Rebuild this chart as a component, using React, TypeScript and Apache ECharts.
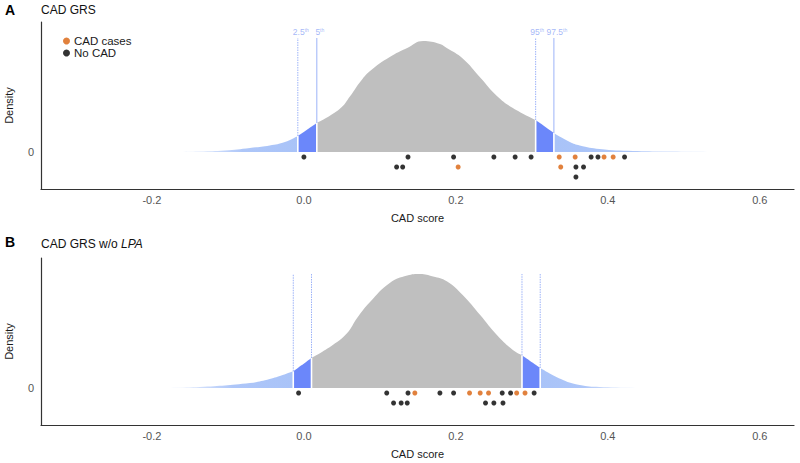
import React, { useEffect, useRef } from "react";
import * as echarts from "echarts";

// ---------- data ----------
const xTicks = [-0.2, 0.0, 0.2, 0.4, 0.6];
const yTicks = [0];

// Panel A: density curve of CAD GRS
const densA_x = [-0.170, -0.137, -0.104, -0.071, -0.045, -0.025, -0.008, 0.017, 0.047, 0.061, 0.074, 0.087, 0.113, 0.136, 0.157, 0.179, 0.188, 0.209, 0.232, 0.254, 0.275, 0.305, 0.329, 0.350, 0.363, 0.389, 0.433, 0.508, 0.574];
const densA_y = [0, 0.02, 0.06, 0.16, 0.26, 0.40, 0.64, 1.16, 1.72, 2.24, 2.80, 3.24, 3.80, 4.16, 4.44, 4.32, 4.16, 3.74, 2.98, 2.24, 1.76, 1.28, 0.76, 0.40, 0.26, 0.12, 0.04, 0.012, 0];
const pctA = [-0.008, 0.017, 0.305, 0.329];
const pctLabels = ["2.5", "5", "95", "97.5"];

// Panel B: density curve of CAD GRS w/o LPA
const densB_x = [-0.189, -0.137, -0.071, -0.045, -0.028, -0.014, 0.010, 0.038, 0.057, 0.070, 0.087, 0.113, 0.136, 0.153, 0.170, 0.188, 0.209, 0.232, 0.254, 0.275, 0.287, 0.311, 0.341, 0.363, 0.389, 0.453];
const densB_y = [0, 0.04, 0.2, 0.36, 0.52, 0.67, 1.2, 1.72, 2.2, 2.8, 3.44, 4.2, 4.5, 4.56, 4.46, 4.27, 3.72, 2.92, 2.12, 1.52, 1.31, 0.8, 0.32, 0.12, 0.04, 0];
const pctB = [-0.014, 0.010, 0.287, 0.311];

// individual scores: [score, stack level]
const casesA: number[][] = [[0.336, 0], [0.357, 0], [0.395, 0], [0.407, 0], [0.203, 1], [0.338, 1]];
const noCadA: number[][] = [[0.000, 0], [0.137, 0], [0.197, 0], [0.250, 0], [0.278, 0], [0.299, 0], [0.378, 0], [0.387, 0], [0.422, 0], [0.122, 1], [0.130, 1], [0.358, 1], [0.368, 1], [0.358, 2]];
const casesB: number[][] = [[0.146, 0], [0.218, 0], [0.232, 0], [0.243, 0], [0.280, 0], [0.291, 0]];
const noCadB: number[][] = [[-0.007, 0], [0.109, 0], [0.137, 0], [0.179, 0], [0.197, 0], [0.261, 0], [0.272, 0], [0.303, 0], [0.118, 1], [0.128, 1], [0.136, 1], [0.239, 1], [0.250, 1], [0.262, 1]];

// ---------- style ----------
const FONT = "Liberation Sans, Arial, Helvetica, sans-serif";
const GRAY = "#bfbfbf";
const DARKBLUE = "#6b87fa";
const LIGHTBLUE = "#a9c3f8";
const PCTLINE = "#9db3f8";
const ORANGE = "#d9620c";
const X_MIN = -0.346;
const X_MAX = 0.645;
const Y_MIN = -1.48;
const Y_MAX = 5.2;
const LINE_TOP = 4.56;
const ROW_Y = (lvl: number) => -0.2 - 0.4 * lvl;

function seg(xs: number[], ys: number[], lo: number, hi: number) {
  const out: number[][] = [];
  xs.forEach((x, i) => {
    if (x >= lo - 1e-9 && x <= hi + 1e-9) out.push([x, ys[i]]);
  });
  return out;
}
function densAt(xs: number[], ys: number[], p: number) {
  const i = xs.findIndex((x) => Math.abs(x - p) < 1e-9);
  return ys[i];
}

function panelSeries(idx: number, xs: number[], ys: number[], pct: number[], cases: number[][], noCad: number[][], labels: boolean, dottedAll: boolean) {
  const base = { xAxisIndex: idx, yAxisIndex: idx };
  const area = (data: number[][], color: any, z = 2) => ({
    ...base,
    type: "line",
    data,
    smooth: 0.45,
    symbol: "none",
    lineStyle: { width: 0 },
    areaStyle: { color, opacity: 1 },
    silent: true,
    z,
  });
  const fadeLeft = new echarts.graphic.LinearGradient(0, 0, 1, 0, [
    { offset: 0, color: "rgba(169,195,248,0.05)" },
    { offset: 0.55, color: "rgba(169,195,248,0.95)" },
    { offset: 1, color: LIGHTBLUE },
  ]);
  const fadeRight = new echarts.graphic.LinearGradient(0, 0, 1, 0, [
    { offset: 0, color: LIGHTBLUE },
    { offset: 0.4, color: "rgba(169,195,248,0.95)" },
    { offset: 1, color: "rgba(169,195,248,0.05)" },
  ]);
  const s: any[] = [
    area(seg(xs, ys, xs[0], pct[0]), fadeLeft),
    area(seg(xs, ys, pct[0], pct[1]), DARKBLUE),
    area(seg(xs, ys, pct[1], pct[2]), GRAY),
    area(seg(xs, ys, pct[2], pct[3]), DARKBLUE),
    area(seg(xs, ys, pct[3], xs[xs.length - 1]), fadeRight),
  ];
  pct.forEach((p, k) => {
    const d = densAt(xs, ys, p);
    s.push({
      ...base,
      type: "line",
      data: [[p, 0], [p, d]],
      symbol: "none",
      lineStyle: { color: "#ffffff", width: 1.6 },
      silent: true,
      z: 3,
    });
    s.push({
      ...base,
      type: "line",
      data: [[p, d], [p, LINE_TOP]],
      symbol: "none",
      lineStyle: { color: PCTLINE, width: 1, type: dottedAll || k % 2 === 0 ? [1.5, 1] : "solid" },
      silent: true,
      z: 3,
    });
    if (labels) {
      s.push({
        ...base,
        type: "scatter",
        data: [[p, LINE_TOP]],
        symbolSize: 0,
        silent: true,
        label: {
          show: true,
          position: "top",
          distance: 1,
          offset: [k === 2 ? 1.5 : 3, 0],
          formatter: "{a|" + pctLabels[k] + "}{b|th}",
          rich: {
            a: { fontSize: 8.5, color: "#8ea6f6", fontFamily: FONT, lineHeight: 10 },
            b: { fontSize: 5, color: "#8ea6f6", fontFamily: FONT, lineHeight: 6, verticalAlign: "top" },
          },
        },
        z: 4,
      });
    }
  });
  s.push({
    ...base,
    name: "CAD cases",
    type: "scatter",
    data: cases.map((c) => [c[0], ROW_Y(c[1])]),
    symbol: "circle",
    symbolSize: 5,
    itemStyle: { color: ORANGE },
    z: 5,
  });
  s.push({
    ...base,
    name: "No CAD",
    type: "scatter",
    data: noCad.map((c) => [c[0], ROW_Y(c[1])]),
    symbol: "circle",
    symbolSize: 5,
    itemStyle: { color: "#000000" },
    z: 5,
  });
  return s;
}

function xAxis(idx: number) {
  return {
    type: "value",
    gridIndex: idx,
    min: X_MIN,
    max: X_MAX,
    name: "CAD score",
    nameLocation: "middle",
    nameGap: 23,
    nameTextStyle: { fontFamily: FONT, fontSize: 11, color: "#1a1a1a" },
    axisLine: { show: true, onZero: false, lineStyle: { color: "#333333", width: 1.2 } },
    axisTick: { show: false },
    splitLine: { show: false },
    axisLabel: {
      customValues: xTicks,
      formatter: (v: number) => v.toFixed(1),
      fontFamily: FONT,
      fontSize: 11,
      color: "#555555",
      margin: 5,
    },
  };
}
function yAxis(idx: number) {
  return {
    type: "value",
    gridIndex: idx,
    min: Y_MIN,
    max: Y_MAX,
    name: "Density",
    nameLocation: "middle",
    nameGap: 27,
    nameTextStyle: { fontFamily: FONT, fontSize: 11, color: "#1a1a1a" },
    axisLine: { show: true, onZero: false, lineStyle: { color: "#333333", width: 1.2 } },
    axisTick: { show: false },
    splitLine: { show: false },
    axisLabel: {
      customValues: yTicks,
      formatter: (v: number) => String(v),
      fontFamily: FONT,
      fontSize: 11,
      color: "#555555",
      margin: 7,
    },
  };
}

export default function App() {
  const ref = useRef<HTMLDivElement>(null);
  useEffect(() => {
    if (!ref.current) return;
    const chart = echarts.init(ref.current, null, { renderer: "svg" });
    chart.setOption({
      animation: false,
      backgroundColor: "#ffffff",
      grid: [
        { left: 41, right: 6, top: 22, height: 167, containLabel: false, outerBoundsMode: "none" },
        { left: 41, right: 6, top: 258, height: 167, containLabel: false, outerBoundsMode: "none" },
      ],
      xAxis: [xAxis(0), xAxis(1)],
      yAxis: [yAxis(0), yAxis(1)],
      legend: {
        data: ["CAD cases", "No CAD"],
        orient: "vertical",
        left: 58,
        top: 30,
        itemWidth: 7,
        itemHeight: 7,
        itemGap: 0,
        icon: "circle",
        textStyle: { fontFamily: FONT, fontSize: 11.5, color: "#1a1a1a", lineHeight: 12, padding: [0, 0, 0, -1] },
        selectedMode: false,
      },
      graphic: [
        { type: "text", left: 5, top: 3, style: { text: "A", font: "bold 14px " + FONT, fill: "#000" } },
        { type: "text", left: 41, top: 4, style: { text: "CAD GRS", font: "12px " + FONT, fill: "#111" } },
        { type: "text", left: 5, top: 235, style: { text: "B", font: "bold 14px " + FONT, fill: "#000" } },
        {
          type: "text",
          left: 41,
          top: 238,
          style: {
            text: "{n|CAD GRS w/o }{i|LPA}",
            rich: {
              n: { fontFamily: FONT, fontSize: 12, fill: "#111" },
              i: { fontFamily: FONT, fontSize: 12, fontStyle: "italic", fill: "#111" },
            },
          },
        },
      ],
      series: [
        ...panelSeries(0, densA_x, densA_y, pctA, casesA, noCadA, true, false),
        ...panelSeries(1, densB_x, densB_y, pctB, casesB, noCadB, false, true),
      ],
    });
    return () => chart.dispose();
  }, []);
  return <div ref={ref} style={{ width: 800, height: 463, position: "absolute", left: 0, top: 0 }} />;
}
